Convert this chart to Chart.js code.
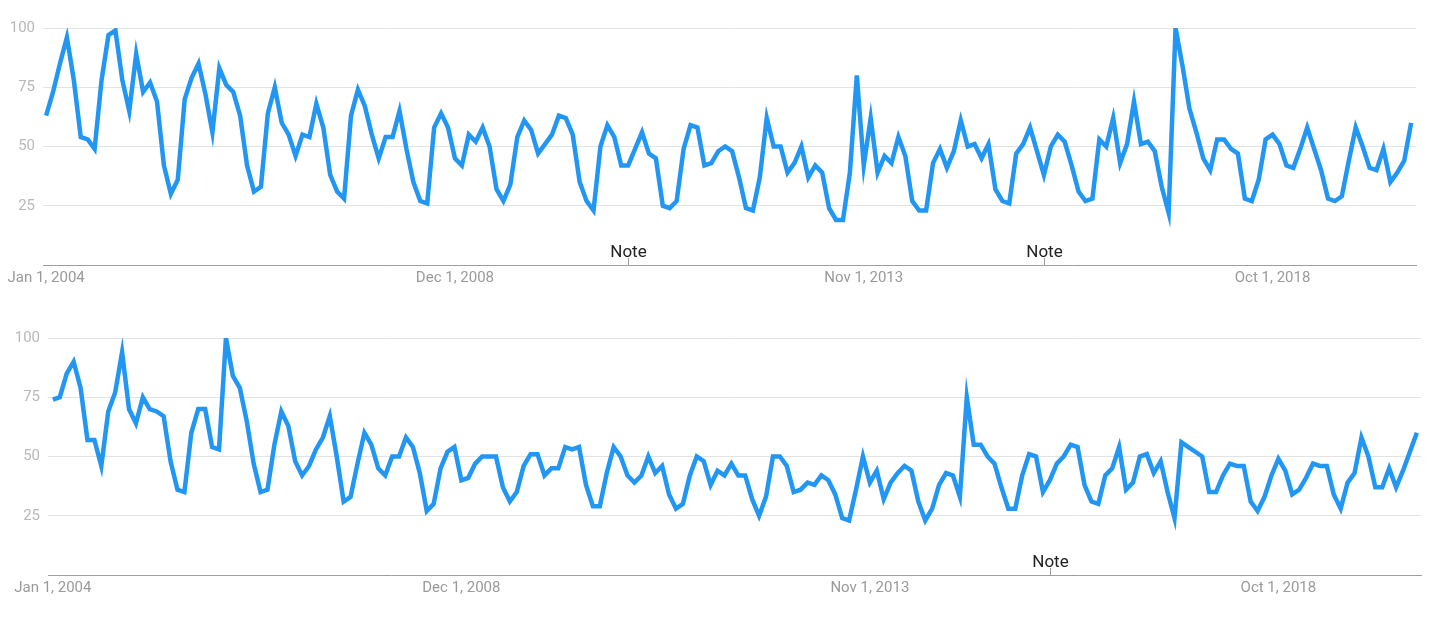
<!DOCTYPE html>
<html lang="en">
<head>
<meta charset="utf-8">
<title>Interest over time</title>
<script src="https://cdn.jsdelivr.net/npm/chart.js"></script>
<style>
    html, body { margin: 0; padding: 0; background: #fff; }
    body { width: 1440px; height: 619px; position: relative; overflow: hidden; font-family: Roboto, Arial, sans-serif; }
    .panel { position: absolute; left: 0; width: 1440px; }
    #top { top: 0; height: 300px; }
    #bottom { top: 310px; height: 309px; }
</style>
</head>
<body>
<div class="panel" id="top"><canvas id="chartTop"></canvas></div>
<div class="panel" id="bottom"><canvas id="chartBottom"></canvas></div>

<script>
// monthly values, Jan 2004 .. Jun 2020 (index 0 = Jan 2004)
const topValues = [
    63,73,85,96,78,54,53,49,78,97, 99,78,65,89,73,77,69,42,30,36,
    70,79,85,72,56,83,76,73,63,42, 31,33,64,75,60,55,46,55,54,68,
    58,38,31,28,63,74,67,55,45,54, 54,65,49,35,27,26,58,64,58,45,
    42,55,52,58,50,32,27,34,54,61, 57,47,51,55,63,62,55,35,27,23,
    50,59,54,42,42,49,56,47,45,25, 24,27,49,59,58,42,43,48,50,48,
    37,24,23,37,62,50,50,39,43,50, 37,42,39,24,19,19,39,80,42,62,
    39,46,43,54,46,27,23,23,43,49, 41,48,61,50,51,45,51,32,27,26,
    47,51,58,48,38,50,55,52,42,31, 27,28,53,50,62,43,51,69,51,52,
    48,33,22,100,84,66,56,45,40,53, 53,49,47,28,27,36,53,55,51,42,
    41,49,58,49,40,28,27,29,44,58, 50,41,40,49,35,39,44,60
];
const bottomValues = [
    74,75,85,90,79,57,57,46,69,77, 94,70,64,75,70,69,67,48,36,35,
    60,70,70,54,53,100,84,79,65,47, 35,36,55,69,63,48,42,46,53,58,
    67,50,31,33,47,60,55,45,42,50, 50,58,54,43,27,30,45,52,54,40,
    41,47,50,50,50,37,31,35,46,51, 51,42,45,45,54,53,54,38,29,29,
    43,54,50,42,39,42,50,43,46,34, 28,30,42,50,48,38,44,42,47,42,
    42,32,25,33,50,50,46,35,36,39, 38,42,40,34,24,23,36,50,39,44,
    32,39,43,46,44,31,23,28,38,43, 42,33,75,55,55,50,47,37,28,28,
    42,51,50,35,40,47,50,55,54,38, 31,30,42,45,54,36,39,50,51,43,
    48,35,24,56,54,52,50,35,35,42, 47,46,46,31,27,33,42,49,44,34,
    36,41,47,46,46,34,28,39,43,58, 50,37,37,45,37,44,52,60
];
const tickIndex = [0, 59, 118, 177];
const tickLabels = ['Jan 1, 2004', 'Dec 1, 2008', 'Nov 1, 2013', 'Oct 1, 2018'];
const yTicks = [0, 25, 50, 75, 100];
const topNotes = [84, 144];
const bottomNotes = [144];

// draws the "Note" markers above the baseline
const notePlugin = {
    id: 'notes',
    afterDraw(chart, args, opts) {
        const ctx = chart.ctx;
        const x = chart.scales.x;
        const bottom = chart.chartArea.bottom;
        ctx.save();
        (opts.at || []).forEach(i => {
            const px = Math.round(x.getPixelForValue(i)) + 0.5;
            ctx.strokeStyle = '#9e9e9e';
            ctx.lineWidth = 1;
            ctx.beginPath();
            ctx.moveTo(px, bottom - 7);
            ctx.lineTo(px, bottom);
            ctx.stroke();
            ctx.fillStyle = '#222';
            ctx.font = '17px Roboto, Arial, sans-serif';
            ctx.textAlign = 'center';
            ctx.textBaseline = 'alphabetic';
            ctx.fillText('Note', px, bottom - 8);
        });
        ctx.restore();
    }
};

function makeChart(id, values, notes, yWidth, padRight, xHeight, xMin, xMax) {
    return new Chart(document.getElementById(id), {
        type: 'line',
        data: {
            datasets: [{
                data: values.map((v, i) => ({ x: i, y: v })),
                borderColor: '#2196f3',
                borderWidth: 4.5,
                pointRadius: 0,
                tension: 0,
                fill: false
            }]
        },
        options: {
            responsive: true,
            maintainAspectRatio: false,
            animation: false,
            events: [],
            layout: { padding: { top: 28, right: padRight, left: 0, bottom: 0 } },
            plugins: {
                legend: { display: false },
                tooltip: { enabled: false },
                notes: { at: notes }
            },
            scales: {
                x: {
                    type: 'linear',
                    min: xMin,
                    max: xMax,
                    afterBuildTicks: s => { s.ticks = tickIndex.map(v => ({ value: v })); },
                    afterFit: s => { s.height = xHeight; },
                    ticks: {
                        autoSkip: false,
                        maxRotation: 0,
                        padding: 4,
                        color: '#9a9a9a',
                        font: { family: 'Roboto', size: 15 },
                        callback: v => tickLabels[tickIndex.indexOf(v)] || ''
                    },
                    grid: { drawOnChartArea: false, drawTicks: false },
                    border: { display: true, color: '#9e9e9e', width: 1 }
                },
                y: {
                    min: 0,
                    max: 100,
                    afterBuildTicks: s => { s.ticks = yTicks.map(v => ({ value: v })); },
                    afterFit: s => { s.width = yWidth; },
                    ticks: {
                        padding: 8,
                        color: '#b8b8b8',
                        font: { family: 'Roboto', size: 15 },
                        callback: v => v === 0 ? '' : String(v)
                    },
                    grid: { color: '#e3e3e3', lineWidth: 1, drawTicks: false },
                    border: { display: false }
                }
            }
        },
        plugins: [notePlugin]
    });
}

makeChart('chartTop', topValues, topNotes, 43, 24, 35, -0.45, 197.7);
makeChart('chartBottom', bottomValues, bottomNotes, 48, 19, 44, -0.7, 197.6);
</script>
</body>
</html>
